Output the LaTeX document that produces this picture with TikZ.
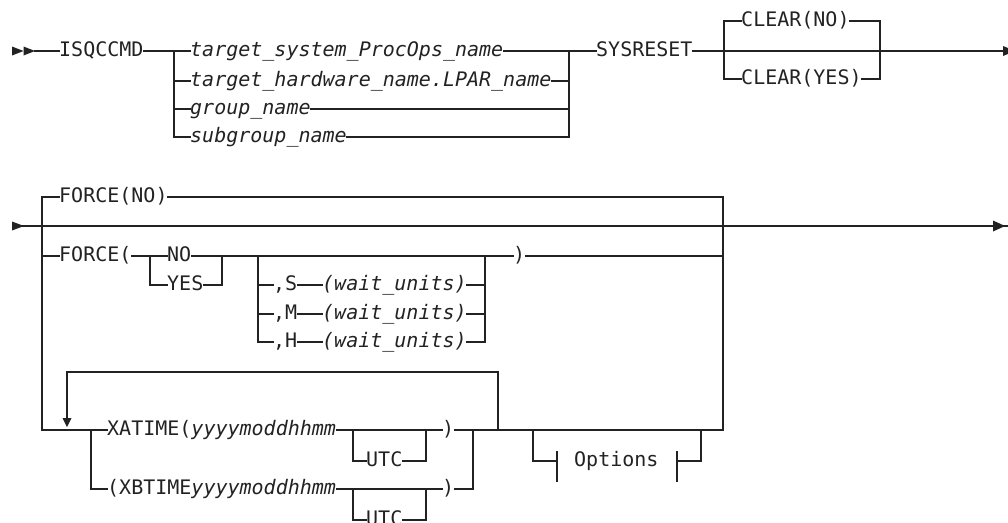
\documentclass[tikz,border=0pt]{standalone}
\usepackage{fontspec}
\setmonofont{DejaVu Sans Mono}
\definecolor{ink}{HTML}{222222}
\begin{document}
\begin{tikzpicture}[x=1pt,y=-1pt,
  rr/.style={anchor=west, inner sep=0pt, text height=15pt, text depth=3.6pt,
    font=\ttfamily\fontsize{20}{24}\selectfont, text=ink},
  it/.style={rr, font=\ttfamily\itshape\fontsize{20}{24}\selectfont},
  rail/.style={draw=ink, line width=1.2pt, line join=miter, line cap=rect},
  tipfill/.style={fill=ink, draw=none}]
\useasboundingbox (0,0) rectangle (1008,522);

% ---------------- Row 1 ----------------
\coordinate (r1s) at (35,51);
\node[rr] (isq) at (59,51) {ISQCCMD};
\coordinate (b1l) at (174,51);
\node[it] (t1) at (190,51) {target\_system\_ProcOps\_name};
\node[it] (t2) at (190,81) {target\_hardware\_name.LPAR\_name};
\node[it] (t3) at (190,109) {group\_name};
\node[it] (t4) at (190,137) {subgroup\_name};
\coordinate (b1r) at (569,51);
\node[rr] (sys) at (596,51) {SYSRESET};
\coordinate (c1l) at (724,51);
\node[rr] (cno) at (741,21) {CLEAR(NO)};
\node[rr] (cyes) at (741,79) {CLEAR(YES)};
\coordinate (c1r) at (880,51);
\coordinate (r1e) at (1003,51);

\fill[tipfill] (12,46.5) -- (23.5,51) -- (12,55.5) -- cycle;
\fill[tipfill] (23.5,46.5) -- (35,51) -- (23.5,55.5) -- cycle;
\draw[rail] (r1s) -- (isq.west);
\draw[rail] (isq.east) -- (b1l) -- (t1.west);
\draw[rail] (b1l) |- (t4.west);
\draw[rail] (b1l |- t2.west) -- (t2.west);
\draw[rail] (b1l |- t3.west) -- (t3.west);
\draw[rail] (t1.east) -- (b1r) -- (sys.west);
\draw[rail] (t4.east) -| (b1r);
\draw[rail] (t2.east) -- (b1r |- t2.east);
\draw[rail] (t3.east) -- (b1r |- t3.east);
\draw[rail] (sys.east) -- (r1e);
\draw[rail] (cno.west) -- (c1l |- cno.west) -- (c1l |- cyes.west) -- (cyes.west);
\draw[rail] (cno.east) -- (c1r |- cno.east) -- (c1r |- cyes.east) -- (cyes.east);
\fill[tipfill] (1003,46) -- (1015,51) -- (1003,56) -- cycle;

% ---------------- Row 2 ----------------
\coordinate (r2s) at (23,226);
\coordinate (l2) at (42,226);
\coordinate (R2) at (723,226);
\coordinate (r2e) at (1008,226);
\node[rr] (fno) at (59,197) {FORCE(NO)};
\node[rr] (fo) at (59,256) {FORCE(};
\coordinate (nyl) at (150,256);
\node[rr] (no) at (167,256) {NO};
\node[rr] (yes) at (167,285) {YES};
\coordinate (nyr) at (222,256);
\coordinate (wl) at (258,256);
\node[rr] (cs) at (273,285) {,S};
\node[rr] (cm) at (273,314) {,M};
\node[rr] (ch) at (273,342) {,H};
\node[it] (ws) at (322,285) {(wait\_units)};
\node[it] (wm) at (322,314) {(wait\_units)};
\node[it] (wh) at (322,342) {(wait\_units)};
\coordinate (wr) at (485,256);
\node[rr] (fcl) at (513,256) {)};

\fill[tipfill] (12,221.5) -- (24,226) -- (12,230.5) -- cycle;
\draw[rail] (r2s) -- (r2e);
\fill[tipfill] (993,220.5) -- (1005,226) -- (993,231.5) -- cycle;

\coordinate (xl) at (91,430);
\coordinate (lp) at (498,430);
\draw[rail] (fno.west) -- (fno.west -| l2) |- (xl);
\draw[rail] (fo.west) -- (fo.west -| l2);
\draw[rail] (fno.east) -- (fno.east -| R2) -- (R2 |- lp) -- (lp);

\draw[rail] (fo.east) -- (nyl) -- (no.west);
\draw[rail] (nyl) |- (yes.west);
\draw[rail] (no.east) -- (nyr) -- (wl) -- (wr) -- (fcl.west);
\draw[rail] (yes.east) -| (nyr);
\draw[rail] (wl) |- (ch.west);
\draw[rail] (wl |- cs.west) -- (cs.west);
\draw[rail] (wl |- cm.west) -- (cm.west);
\draw[rail] (cs.east) -- (ws.west);
\draw[rail] (cm.east) -- (wm.west);
\draw[rail] (ch.east) -- (wh.west);
\draw[rail] (ws.east) -- (wr |- ws.east);
\draw[rail] (wm.east) -- (wr |- wm.east);
\draw[rail] (wh.east) -| (wr);
\draw[rail] (fcl.east) -- (fcl.east -| R2);

% ---------------- Row 3 ----------------
\node[rr] (xa) at (107,430) {XATIME(\itshape yyyymoddhhmm};
\node[rr] (xb) at (107,489) {(XBTIME\itshape yyyymoddhhmm};
\coordinate (u1l) at (353,430);
\coordinate (u1r) at (426,430);
\node[rr] (u1) at (366,461) {UTC};
\node[rr] (p1) at (442,430) {)};
\coordinate (u2l) at (353,489);
\coordinate (u2r) at (426,489);
\node[rr] (u2) at (366,520) {UTC};
\node[rr] (p2) at (442,489) {)};
\coordinate (xr) at (473,430);
\coordinate (lpt) at (498,372);
\coordinate (lpl) at (67,372);
\coordinate (lpa) at (67,419);
\coordinate (ol) at (533,430);
\coordinate (or) at (701,430);
\coordinate (otl) at (557,461);
\coordinate (otr) at (677,461);
\node[rr] (opt) at (574,461) {Options};

\draw[rail] (xl) -- (xa.west);
\draw[rail] (xl) |- (xb.west);
\draw[rail] (xa.east) -- (u1l) -- (u1r) -- (p1.west);
\draw[rail] (u1l) |- (u1.west);
\draw[rail] (u1.east) -| (u1r);
\draw[rail] (xb.east) -- (u2l) -- (u2r) -- (p2.west);
\draw[rail] (u2l) |- (u2.west);
\draw[rail] (u2.east) -| (u2r);
\draw[rail] (p1.east) -- (xr) -- (lp);
\draw[rail] (p2.east) -| (xr);
\draw[rail] (lp) -- (lpt) -- (lpl) -- (lpa);
\fill[tipfill] (62.5,418) -- (71.5,418) -- (67,427) -- cycle;
\draw[rail] (ol) |- (otl);
\draw[rail] ([yshift=9pt]otl) -- ([yshift=-20pt]otl);
\draw[rail] (otr) -| (or);
\draw[rail] ([yshift=9pt]otr) -- ([yshift=-20pt]otr);
\end{tikzpicture}
\end{document}
